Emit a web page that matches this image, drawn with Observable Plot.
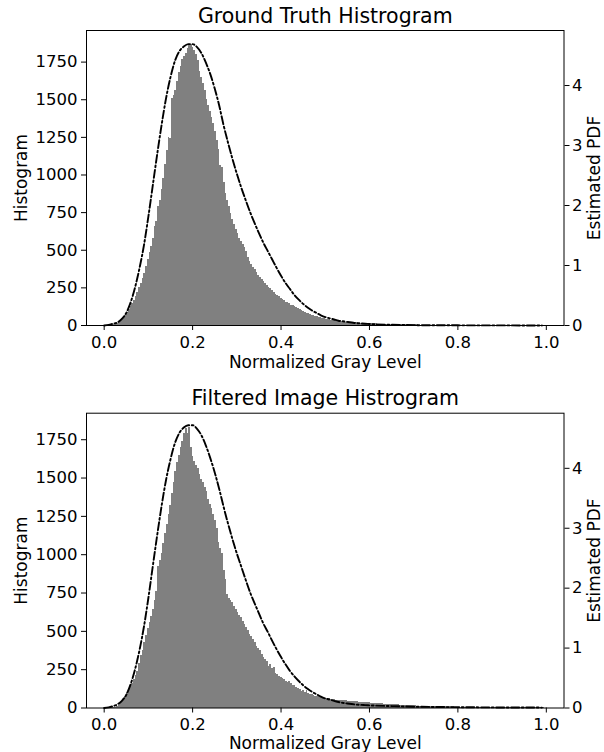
<!DOCTYPE html>
<html><head><meta charset="utf-8">
<script src="https://cdn.jsdelivr.net/npm/d3@7"></script>
<script src="https://cdn.jsdelivr.net/npm/@observablehq/plot@0.6"></script>
<style>
body{margin:0;background:#fff;width:604px;height:752px;overflow:hidden;font-family:"DejaVu Sans",sans-serif;}
.panel{position:relative;width:604px;height:376px;}
.panel svg{position:absolute;left:0;top:0;}
</style></head><body>
<div id="top" class="panel"></div>
<div id="bottom" class="panel"></div>
<script>
// ---- data ----
const titles = ["Ground Truth Histrogram", "Filtered Image Histrogram"];
const xLabel = "Normalized Gray Level";
const yLabelLeft = "Histogram";
const yLabelRight = "Estimated PDF";
const xTicks = [0, 0.2, 0.4, 0.6, 0.8, 1.0];
const countTicks = [0, 250, 500, 750, 1000, 1250, 1500, 1750];
const pdfTicks = [0, 1, 2, 3, 4];
const nBins = 256;

// 256-bin histogram counts, ground truth
const gtCounts = [
0,0,1,2,4,7,11,16,24,33,
44,56,68,85,105,124,146,168,193,218,
250,282,312,345,395,440,485,525,580,660,
690,790,830,905,980,1070,1160,1250,1245,1510,
1530,1560,1620,1680,1720,1765,1790,1810,1840,1862,
1866,1850,1830,1800,1760,1690,1650,1610,1560,1500,
1460,1420,1380,1345,1290,1230,1170,1060,1050,950,
880,830,790,745,705,670,640,610,580,560,
540,515,490,450,425,405,385,370,350,330,
320,305,290,280,268,255,243,230,218,205,
198,190,182,172,163,155,150,143,136,130,
124,117,112,106,100,94,88,83,78,73,
68,64,60,57,54,51,48,45,42,40,
38,36,34,32,30,29,28,26,25,24,
23,22,21,20,19,18,17,16,16,15,
14,13,13,12,11,11,10,10,9,9,
8,8,8,7,7,7,6,6,6,6,
5,5,5,5,5,4,4,4,4,4,
4,4,3,3,3,3,3,3,3,3,
3,3,3,2,3,2,2,3,2,2,
2,2,3,2,2,2,2,2,2,2,
2,2,2,2,1,2,2,2,1,2,
2,1,2,2,1,2,1,2,1,1,
2,1,1,2,1,1,1,2,1,1,
1,1,1,1,1,1,1,1,1,1,
1,1,1,1,0,0];

// 256-bin histogram counts, filtered image
const filtCounts = [
0,0,0,1,2,4,6,10,18,30,
45,62,78,100,118,140,160,185,210,240,
290,345,375,430,470,520,555,600,640,700,
760,920,960,1010,1070,1140,1200,1260,1320,1400,
1470,1540,1600,1650,1700,1740,1790,1825,1790,1830,
1700,1640,1610,1580,1560,1520,1490,1470,1440,1410,
1360,1330,1300,1260,1220,1170,1080,1040,1010,900,
840,740,715,700,685,665,645,620,605,590,
565,545,525,505,480,465,445,430,400,385,
375,350,330,318,305,270,285,255,265,225,
220,205,200,192,185,175,168,172,160,150,
145,135,128,122,110,116,104,112,95,90,
86,82,78,75,72,70,67,64,62,61,
59,57,55,54,52,51,50,49,48,47,
46,45,44,43,42,41,40,39,38,37,
36,35,34,33,32,31,30,30,29,28,
28,27,26,25,24,24,23,22,21,21,
20,19,18,18,17,16,16,15,15,14,
14,13,13,12,12,11,11,11,10,10,
10,9,9,9,9,8,8,8,8,7,
7,7,7,6,6,6,6,6,6,5,
5,5,5,5,5,5,4,4,4,4,
4,4,4,4,3,3,3,3,3,3,
3,3,3,3,3,3,2,2,2,2,
2,2,2,2,2,2,2,2,2,2,
2,1,1,1,1,0];

// estimated PDF curves
const pdfX = [0,0.01,0.02,0.03,0.04,0.05,0.06,0.07,0.08,0.09,
0.10,0.11,0.12,0.13,0.14,0.15,0.16,0.17,0.18,0.19,
0.20,0.21,0.22,0.23,0.24,0.25,0.26,0.27,0.28,0.29,
0.30,0.31,0.32,0.33,0.34,0.35,0.36,0.37,0.38,0.39,
0.40,0.41,0.42,0.43,0.44,0.45,0.46,0.47,0.48,0.49,
0.50,0.51,0.52,0.53,0.54,0.55,0.56,0.57,0.58,0.59,
0.60,0.65,0.70,0.75,0.80,0.85,0.90,0.95,0.99];
const gtPdf = [0.00,0.01,0.03,0.05,0.11,0.21,0.39,0.64,0.96,1.34,
1.82,2.34,2.86,3.35,3.79,4.14,4.41,4.57,4.65,4.69,
4.69,4.64,4.54,4.38,4.19,3.95,3.67,3.34,3.05,2.78,
2.53,2.30,2.09,1.89,1.71,1.54,1.38,1.24,1.10,0.96,
0.83,0.71,0.61,0.51,0.43,0.36,0.30,0.25,0.21,0.17,
0.14,0.12,0.10,0.08,0.07,0.06,0.05,0.04,0.035,0.03,
0.025,0.012,0.006,0.004,0.003,0.002,0.002,0.001,0.001];
const filtPdf = [0.00,0.01,0.03,0.06,0.12,0.22,0.40,0.65,0.97,1.36,
1.84,2.37,2.89,3.38,3.81,4.15,4.42,4.59,4.68,4.72,
4.72,4.66,4.55,4.38,4.17,3.93,3.66,3.36,3.08,2.82,
2.58,2.36,2.14,1.93,1.75,1.58,1.41,1.27,1.12,0.98,
0.85,0.73,0.62,0.53,0.45,0.38,0.32,0.27,0.23,0.19,
0.16,0.14,0.12,0.10,0.085,0.075,0.066,0.058,0.052,0.048,
0.044,0.032,0.022,0.017,0.014,0.011,0.009,0.008,0.007];

// ---- drawing ----
const W = 604, H = 376, ML = 86, MR = 40.5;
const xDomain = [-0.04, 1.04];
const FONT = "DejaVu Sans";
const TICK_FS = 16.5, LABEL_FS = 17, TITLE_FS = 20.5;

function panel(el, {title, counts, pdf, yMax, pdfMax, mt, mb, xlabDy}) {
  const bins = counts.map((c, i) => ({x1: i / nBins, x2: (i + 1) / nBins, c}));
  const common = {width: W, height: H, marginLeft: ML, marginRight: MR, marginTop: mt, marginBottom: mb};
  const p1 = Plot.plot({...common,
    style: {fontFamily: FONT, fontSize: TICK_FS + "px", color: "#000", background: "#fff"},
    x: {domain: xDomain},
    y: {domain: [0, yMax]},
    marks: [
      Plot.rectY(bins, {x1: "x1", x2: "x2", y: "c", fill: "#808080", inset: 0, shapeRendering: "crispEdges"}),
      Plot.axisX({ticks: xTicks, tickFormat: d3.format(".1f"), tickSize: 5, tickPadding: 5.5, fontSize: TICK_FS, label: null}),
      Plot.axisY({ticks: countTicks, tickFormat: d3.format("d"), tickSize: 5, tickPadding: 4, fontSize: TICK_FS, label: null}),
      Plot.text([title], {frameAnchor: "top", textAnchor: "middle", lineAnchor: "middle", dy: -14.5, fontSize: TITLE_FS, fill: "#000"}),
      Plot.text([xLabel], {frameAnchor: "bottom", textAnchor: "middle", lineAnchor: "middle", dy: xlabDy, fontSize: LABEL_FS, fill: "#000"}),
      Plot.text([yLabelLeft], {frameAnchor: "left", textAnchor: "middle", lineAnchor: "middle", dx: -65, rotate: -90, fontSize: LABEL_FS, fill: "#000"})
    ]});
  const p2 = Plot.plot({...common,
    style: {fontFamily: FONT, fontSize: TICK_FS + "px", color: "#000", background: "transparent"},
    x: {domain: xDomain, axis: null},
    y: {domain: [0, pdfMax]},
    marks: [
      Plot.line(pdfX.map((x, i) => ({x, y: pdf[i]})), {x: "x", y: "y", stroke: "#000", strokeWidth: 1.9,
        strokeDasharray: "8,2.6,1.8,2.6", curve: "monotone-x"}),
      Plot.axisY({anchor: "right", ticks: pdfTicks, tickFormat: d3.format("d"), tickSize: 5, tickPadding: 3, fontSize: TICK_FS, label: null}),
      Plot.frame({stroke: "#000", strokeWidth: 1}),
      Plot.text([yLabelRight], {frameAnchor: "right", textAnchor: "middle", lineAnchor: "middle", dx: 30.5, rotate: -90, fontSize: LABEL_FS, fill: "#000"})
    ]});
  el.append(p1, p2);
}

panel(document.getElementById("top"), {title: titles[0], counts: gtCounts, pdf: gtPdf,
  yMax: 1960, pdfMax: 4.917, mt: 30, mb: 51, xlabDy: 37});
panel(document.getElementById("bottom"), {title: titles[1], counts: filtCounts, pdf: filtPdf,
  yMax: 1923, pdfMax: 4.92, mt: 36.7, mb: 44.5, xlabDy: 35.5});
</script>
</body></html>
